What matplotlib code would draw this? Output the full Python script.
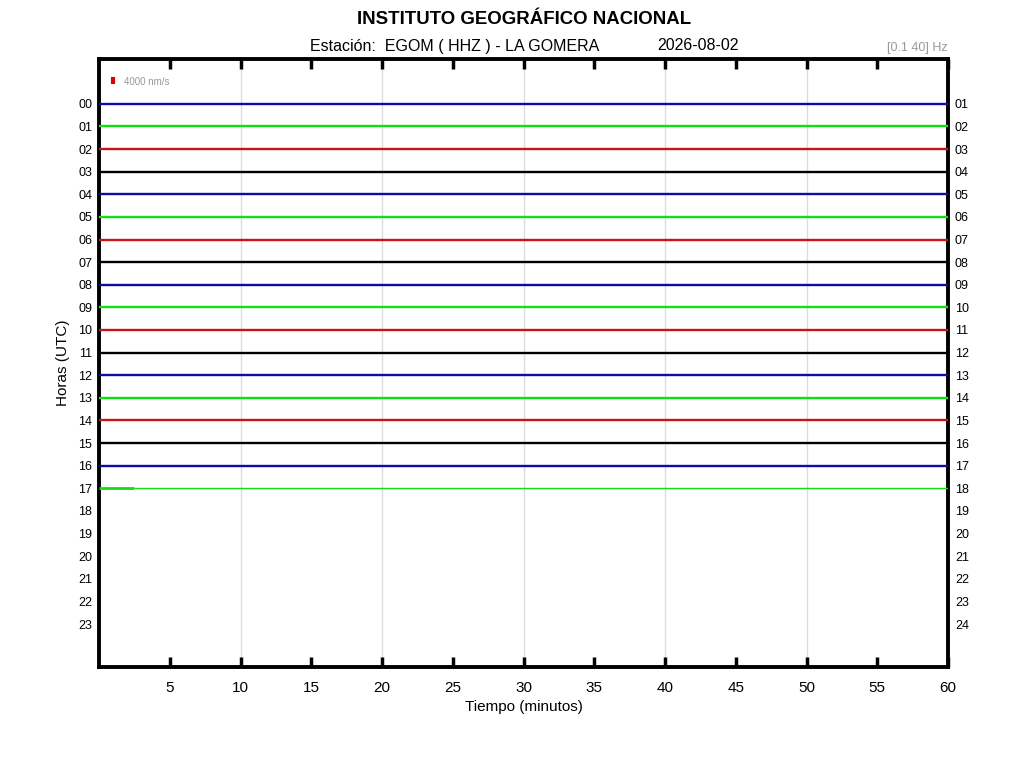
import matplotlib
matplotlib.use("Agg")
import matplotlib.pyplot as plt

plt.rcParams['font.family'] = ['Liberation Sans', 'DejaVu Sans']

# ---- data ----
hours = list(range(24))
left_labels = [f"{h:02d}" for h in range(24)]
right_labels = [f"{h:02d}" for h in range(1, 25)]
# minutes of recorded signal for each hour with data (hour 17 only partly recorded)
trace_end_minutes = [60, 60, 60, 60, 60, 60, 60, 60, 60, 60, 60, 60, 60, 60, 60, 60, 60, 2.5]
trace_colors = ['#0c0ca8', '#10e010', '#c81414', '#000000']
x_ticks = [5, 10, 15, 20, 25, 30, 35, 40, 45, 50, 55, 60]
grid_minutes = [10, 20, 30, 40, 50]

fig = plt.figure(figsize=(10.24, 7.68), dpi=100)
ax = fig.add_axes([99/1024, 1 - 667/768, (948-99)/1024, (667-59)/768])

for h, end in enumerate(trace_end_minutes):
    c = trace_colors[h % 4]
    if end >= 60:
        ax.plot([0, 60], [h, h], color=c, lw=1.7, solid_capstyle='butt', zorder=3)
    else:
        ax.plot([0, end], [h, h], color=c, lw=2.0, solid_capstyle='butt', zorder=3)
        ax.plot([end, 60], [h, h], color=c, lw=1.0, solid_capstyle='butt', zorder=3)

for g in grid_minutes:
    ax.axvline(g, color='#dcdcdc', lw=1.0, zorder=1)

ax.set_xlim(0, 60)
ax.set_ylim(24.9, -1.98)
ax.set_xticks(x_ticks)
ax.set_xticklabels([str(t) for t in x_ticks], fontsize=11)
ax.set_yticks(hours)
ax.set_yticklabels(left_labels, fontsize=9)
ax.tick_params(axis='x', direction='in', length=7, width=2.5, top=True, bottom=True, pad=10)
ax.tick_params(axis='y', length=0, pad=5)
for s in ax.spines.values():
    s.set_linewidth(2.8)

ax2 = ax.twinx()
ax2.set_ylim(ax.get_ylim())
ax2.set_yticks(hours)
ax2.set_yticklabels(right_labels, fontsize=9)
ax2.tick_params(axis='y', length=0, pad=5)
for s in ax2.spines.values():
    s.set_visible(False)

ax.set_xlabel("Tiempo (minutos)", fontsize=11, labelpad=4)
ax.set_ylabel("Horas (UTC)", fontsize=11, labelpad=6)

fig.text(524/1024, 1 - 20/768, "INSTITUTO GEOGRÁFICO NACIONAL", ha='center', va='center',
         fontsize=13.4, fontweight='bold')
fig.text(455/1024, 1 - 46/768, "Estación:  EGOM ( HHZ ) - LA GOMERA", ha='center', va='center', fontsize=11.5)
fig.text(698/1024, 1 - 46/768, "2026-08-02", ha='center', va='center', fontsize=11.5)
fig.text(948/1024, 1 - 48/768, "[0.1 40] Hz", ha='right', va='center', fontsize=9, color='#999999')

# scale bar
ax.plot([1.0, 1.0], [-1.19, -0.88], color='#e00000', lw=3, solid_capstyle='butt', clip_on=False)
ax.text(1.8, -0.97, "4000 nm/s", fontsize=7, color='#999999', va='center', ha='left')

fig.savefig("out.png", dpi=100, facecolor='white')
